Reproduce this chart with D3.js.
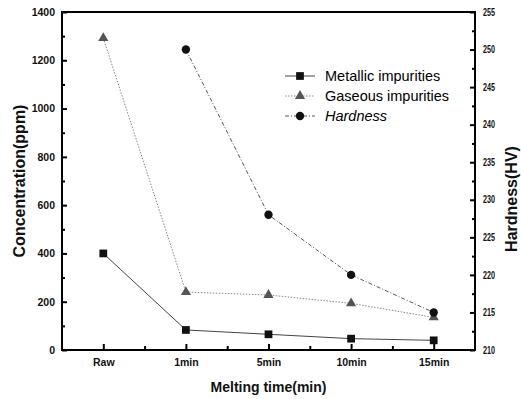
<!DOCTYPE html>
<html><head><meta charset="utf-8">
<script src="https://cdn.jsdelivr.net/npm/d3@7"></script>
<style>body{margin:0;background:#fff}text{font-family:Arial,"Liberation Sans",sans-serif}</style>
</head><body>
<svg id="c" width="521" height="399"></svg>
<script>
const categories = ["Raw","1min","5min","10min","15min"];
const metallic = [400, 83, 65, 47, 40];
const gaseous = [1292, 240, 228, 193, 135];
const hardness = [null, 250, 228, 220, 215];
const leftTicks = [0,200,400,600,800,1000,1200,1400];
const rightTicks = [210,215,220,225,230,235,240,245,250,255];

const svg = d3.select("#c");
const L=62, R=475, T=12, B=350;
const x = d3.scaleLinear().domain([-0.5,4.5]).range([L,R]);
const yL = d3.scaleLinear().domain([0,1400]).range([B,T]);
const yR = d3.scaleLinear().domain([210,255]).range([B,T]);
const fmt = d3.format("d");

const fontTick = "bold 10.5px Arial";
const gL = svg.append("g").attr("transform",`translate(${L},0)`)
  .call(d3.axisLeft(yL).tickValues(leftTicks).tickFormat(fmt).tickSizeInner(-5).tickSizeOuter(0).tickPadding(7));
const gLm = svg.append("g").attr("transform",`translate(${L},0)`)
  .call(d3.axisLeft(yL).tickValues(d3.range(100,1400,200)).tickSizeInner(-3).tickSizeOuter(0).tickFormat(""));
const gR = svg.append("g").attr("transform",`translate(${R},0)`)
  .call(d3.axisRight(yR).tickValues(rightTicks).tickFormat(fmt).tickSizeInner(-5).tickSizeOuter(0).tickPadding(8));
const gRm = svg.append("g").attr("transform",`translate(${R},0)`)
  .call(d3.axisRight(yR).tickValues(d3.range(212.5,255,5)).tickSizeInner(-3).tickSizeOuter(0).tickFormat(""));
const gB = svg.append("g").attr("transform",`translate(0,${B})`)
  .call(d3.axisBottom(x).tickValues(d3.range(0,5)).tickFormat(i=>categories[i]).tickSizeInner(-6).tickSizeOuter(0).tickPadding(9));
const gBm = svg.append("g").attr("transform",`translate(0,${B})`)
  .call(d3.axisBottom(x).tickValues([0.5,1.5,2.5,3.5]).tickSizeInner(-4).tickSizeOuter(0).tickFormat(""));
[gL,gLm,gR,gRm,gB,gBm].forEach(g=>{
  g.select(".domain").remove();
  g.selectAll(".tick line").attr("stroke","#000").attr("stroke-width",2);
  g.selectAll(".tick text").attr("fill","#111").style("font",fontTick);
});
gR.selectAll(".tick text").style("font","bold 10px Arial").attr("textLength",12).attr("lengthAdjust","spacingAndGlyphs");
svg.append("rect").attr("x",L).attr("y",T).attr("width",R-L).attr("height",B-T)
  .attr("fill","none").attr("stroke","#000").attr("stroke-width",2);

svg.append("text").attr("transform",`translate(25,${(T+B)/2}) rotate(-90)`).attr("text-anchor","middle")
  .style("font","bold 16px Arial").attr("fill","#111").text("Concentration(ppm)");
svg.append("text").attr("transform",`translate(517,199) rotate(-90)`).attr("text-anchor","middle")
  .style("font","bold 16px Arial").attr("fill","#111").text("Hardness(HV)");
svg.append("text").attr("x",(L+R)/2).attr("y",392).attr("text-anchor","middle")
  .style("font","bold 14px Arial").attr("fill","#111").text("Melting time(min)");

const series = [
  {name:"Metallic impurities", vals:metallic, y:yL, shape:d3.symbolSquare, dash:null, stroke:"#444", fill:"#111", size:60, italic:false},
  {name:"Gaseous impurities", vals:gaseous, y:yL, shape:d3.symbolTriangle, dash:"1.5,1.5", stroke:"#888", fill:"#555", size:45, italic:false},
  {name:"Hardness", vals:hardness, y:yR, shape:d3.symbolCircle, dash:"4,2,1,2", stroke:"#555", fill:"#111", size:55, italic:true}
];
series.forEach(s=>{
  const pts = s.vals.map((v,i)=>[i,v]).filter(p=>p[1]!=null);
  svg.append("path").attr("d",d3.line().x(p=>x(p[0])).y(p=>s.y(p[1]))(pts))
    .attr("fill","none").attr("stroke",s.stroke).attr("stroke-width",1)
    .attr("stroke-dasharray",s.dash);
  svg.selectAll(null).data(pts).enter().append("path")
    .attr("d",d3.symbol().type(s.shape).size(s.size))
    .attr("transform",p=>`translate(${x(p[0])},${s.y(p[1])})`)
    .attr("fill",s.fill);
});

const lg = svg.append("g");
series.forEach((s,i)=>{
  const yy = 76 + i*20;
  lg.append("line").attr("x1",285).attr("x2",315).attr("y1",yy).attr("y2",yy)
    .attr("stroke",s.stroke).attr("stroke-width",1).attr("stroke-dasharray",s.dash);
  lg.append("path").attr("d",d3.symbol().type(s.shape).size(s.size)).attr("transform",`translate(300,${yy})`).attr("fill",s.fill);
  lg.append("text").attr("x",325).attr("y",yy+5).style("font",(s.italic?"italic ":"")+"14.5px Arial").attr("fill","#000").text(s.name);
});
</script>
</body></html>
